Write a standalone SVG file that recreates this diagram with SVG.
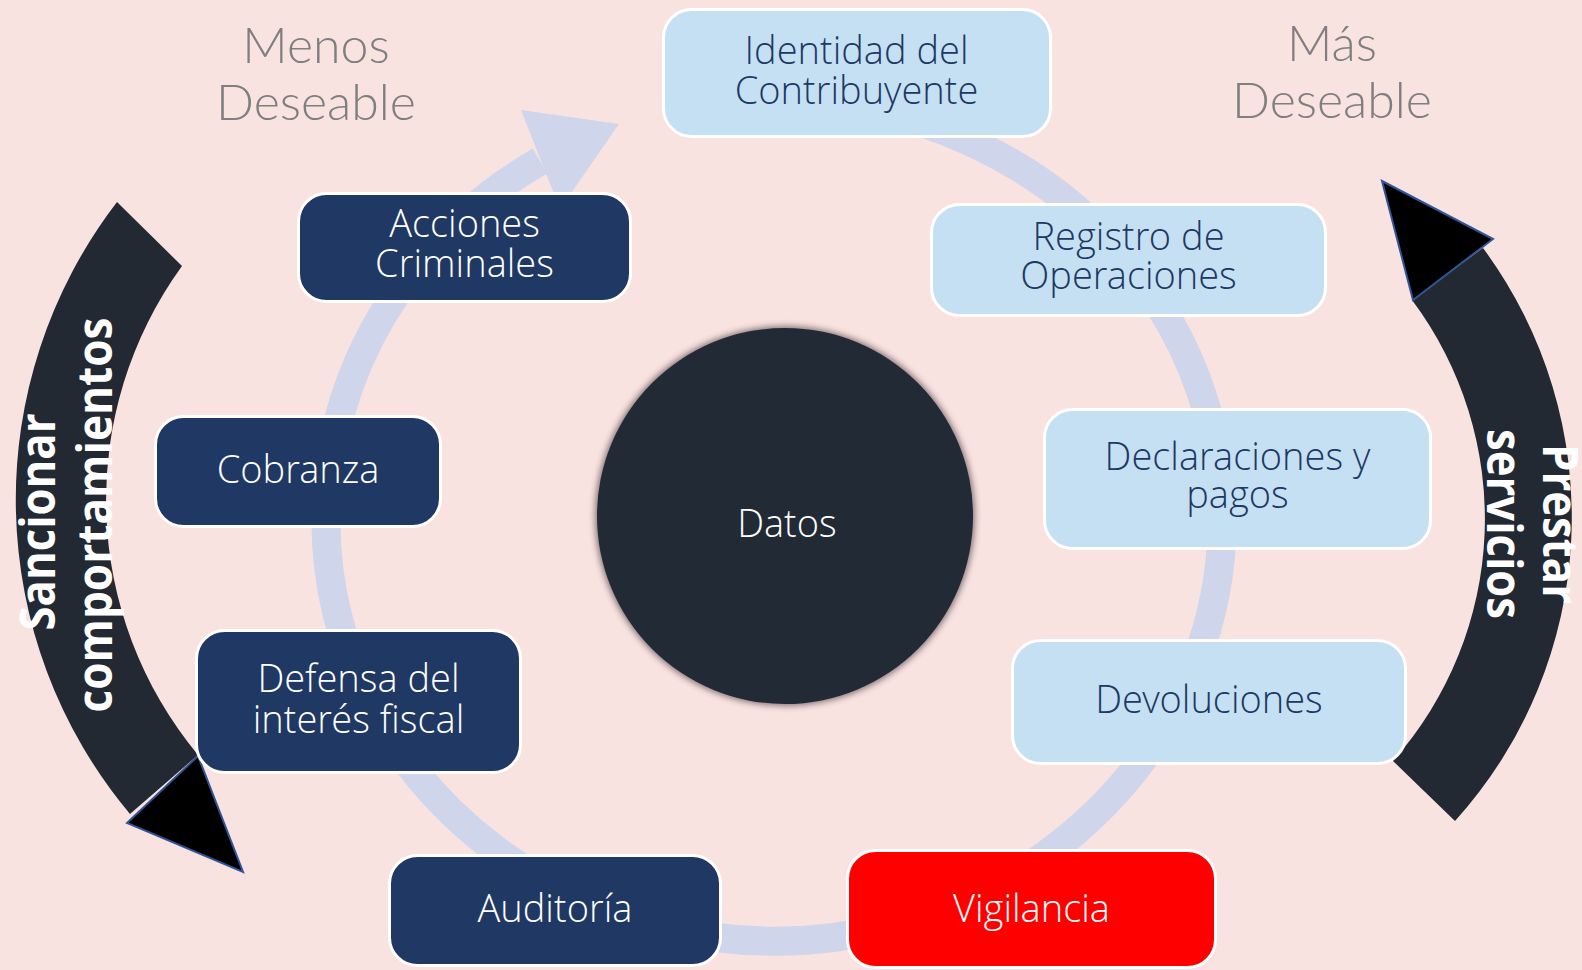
<svg xmlns="http://www.w3.org/2000/svg" width="1582" height="970" viewBox="0 0 1582 970">
<defs>
<style>
.bg{fill:#F9E3E1}
.lt rect{fill:#C5E0F2;stroke:#FFFFFF;stroke-width:3}
.dk rect{fill:#203864;stroke:#FFFFFF;stroke-width:3}
.rd rect{fill:#FF0000;stroke:#FFFFFF;stroke-width:3}
.nt{font-family:'Open Sans Light','Open Sans','Liberation Sans',sans-serif;font-weight:300;font-size:38px;text-anchor:middle}
.lt text{fill:#203864}
.dk text,.rd text{fill:#FFFFFF}
.hd{font-family:'Lato Light',Lato,'Open Sans',sans-serif;font-weight:300;font-size:50px;fill:#7F7F7F;text-anchor:middle}
.band{fill:#222933}
.ahead{fill:#000000;stroke:#2F5597;stroke-width:2;stroke-linejoin:miter}
.bt{font-family:'Open Sans','Liberation Sans',sans-serif;font-weight:700;font-size:48px;fill:#FFFFFF;text-anchor:middle}
</style>
<filter id="glow" x="-20%" y="-20%" width="140%" height="140%">
<feGaussianBlur stdDeviation="3"/>
</filter>
</defs>
<rect class="bg" x="0" y="0" width="1582" height="970"/>

<g id="connectors">
<path d="M 774 99 A 448 421 0 1 1 540 161" fill="none" stroke="#CFD5EA" stroke-width="29"/>
<polygon points="521,110 619,124 560,209" fill="#CFD5EA"/>
</g>

<g id="band-left">
<path class="band" d="M 117 202 A 489 489 0 0 0 130 814 L 198 755 A 399 399 0 0 1 182 266 Z"/>
<polygon class="ahead" points="127,823 198,756 243,872"/>
<text class="bt" transform="translate(55,522) rotate(-90)" textLength="217" lengthAdjust="spacingAndGlyphs">Sancionar</text>
<text class="bt" transform="translate(112,515) rotate(-90)" textLength="395" lengthAdjust="spacingAndGlyphs">comportamientos</text>
</g>

<g id="band-right">
<path class="band" d="M 1483 248 A 453 453 0 0 1 1455 821 L 1393 761 A 365 365 0 0 0 1412 300 Z"/>
<polygon class="ahead" points="1382,181 1493,239 1413,300"/>
<text class="bt" transform="translate(1543,524) rotate(90)" textLength="160" lengthAdjust="spacingAndGlyphs">Prestar</text>
<text class="bt" transform="translate(1487,524) rotate(90)" textLength="190" lengthAdjust="spacingAndGlyphs">servicios</text>
</g>

<g id="menos">
<text class="hd" x="316" y="63">Menos</text>
<text class="hd" x="316" y="120">Deseable</text>
</g>
<g id="mas">
<text class="hd" x="1332" y="61">Más</text>
<text class="hd" x="1332" y="118">Deseable</text>
</g>

<g id="datos">
<circle cx="785" cy="516" r="190" fill="#3A2C30" opacity="0.6" filter="url(#glow)"/>
<circle cx="785" cy="516" r="188" fill="#222A35"/>
<text class="nt" x="787" y="537" fill="#FFFFFF">Datos</text>
</g>

<g id="identidad" class="lt">
<rect x="663.5" y="9.5" width="387" height="127" rx="28"/>
<text class="nt" x="856.5" y="64">Identidad del</text>
<text class="nt" x="856.5" y="104">Contribuyente</text>
</g>
<g id="registro" class="lt">
<rect x="931.5" y="204.5" width="394" height="111" rx="28"/>
<text class="nt" x="1128.5" y="250">Registro de</text>
<text class="nt" x="1128.5" y="289">Operaciones</text>
</g>
<g id="declaraciones" class="lt">
<rect x="1044.5" y="409.5" width="386" height="139" rx="28"/>
<text class="nt" x="1237.5" y="470">Declaraciones y</text>
<text class="nt" x="1237.5" y="508">pagos</text>
</g>
<g id="devoluciones" class="lt">
<rect x="1012.5" y="640.5" width="393" height="123" rx="28"/>
<text class="nt" x="1209" y="713">Devoluciones</text>
</g>
<g id="vigilancia" class="rd">
<rect x="847.5" y="850.5" width="368" height="117" rx="28"/>
<text class="nt" x="1031.5" y="922">Vigilancia</text>
</g>
<g id="auditoria" class="dk">
<rect x="389.5" y="855.5" width="331" height="110" rx="28"/>
<text class="nt" x="555" y="922">Auditoría</text>
</g>
<g id="defensa" class="dk">
<rect x="196.5" y="630.5" width="324" height="142" rx="28"/>
<text class="nt" x="358.5" y="692">Defensa del</text>
<text class="nt" x="358.5" y="733">interés fiscal</text>
</g>
<g id="cobranza" class="dk">
<rect x="155.5" y="416.5" width="285" height="110" rx="28"/>
<text class="nt" x="298" y="483">Cobranza</text>
</g>
<g id="acciones" class="dk">
<rect x="298.5" y="193.5" width="332" height="108" rx="28"/>
<text class="nt" x="464.5" y="237">Acciones</text>
<text class="nt" x="464.5" y="277">Criminales</text>
</g>
</svg>
